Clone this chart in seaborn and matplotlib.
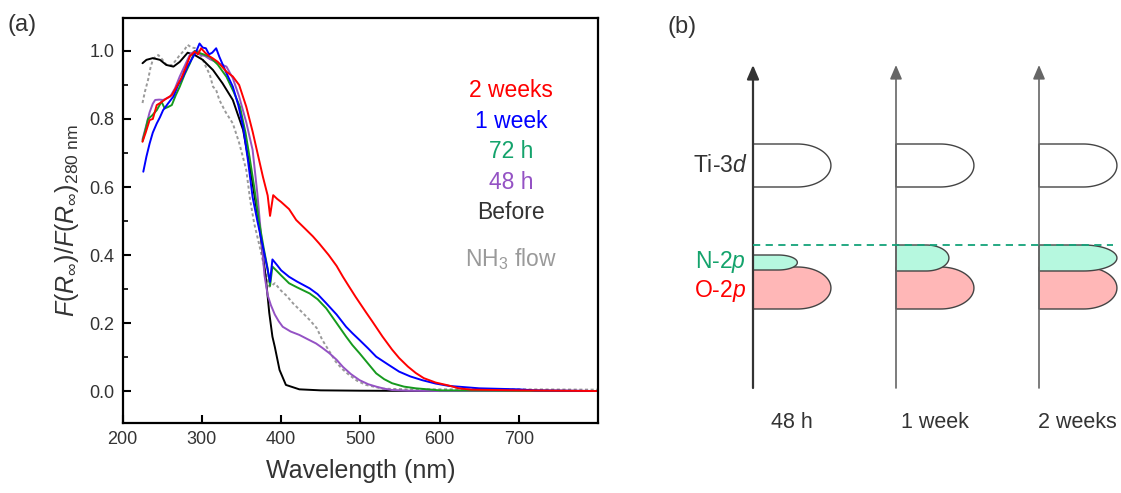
import numpy as np
import pandas as pd
import matplotlib
matplotlib.use("Agg")
import matplotlib.pyplot as plt
import seaborn as sns

# ---------------- data (panel a) ----------------
wl_before = [225, 230, 238, 247, 255, 264, 272, 282, 291, 301, 314, 326, 339, 352, 362, 368, 373, 377, 381, 385,
             389, 392, 398, 406, 423, 450, 500, 600, 700, 800]
val_before = [0.964, 0.974, 0.979, 0.974, 0.959, 0.954, 0.968, 0.995, 0.988, 0.974, 0.944, 0.905, 0.856, 0.768,
              0.64, 0.55, 0.474, 0.40, 0.326, 0.23, 0.16, 0.13, 0.062, 0.018, 0.005, 0.002, 0.001, 0.0, 0.0, 0.0]

wl_2w = [225, 229, 234, 238, 243, 248, 255, 262, 268, 274, 280, 285, 291, 295, 299, 304, 309, 314, 320, 325, 331,
         339, 347, 356, 364, 377, 383, 386, 390, 395, 400, 410, 419, 430, 440, 448, 460, 470, 478, 485, 494, 507,
         515, 528, 540, 549, 560, 570, 580, 595, 612, 624, 640, 700, 800]
val_2w = [0.733, 0.76, 0.797, 0.80, 0.841, 0.848, 0.86, 0.87, 0.895, 0.92, 0.954, 0.985, 0.998, 0.99, 1.008, 0.995,
          0.985, 0.978, 0.968, 0.955, 0.939, 0.925, 0.90, 0.836, 0.763, 0.63, 0.575, 0.515, 0.576, 0.565, 0.556,
          0.535, 0.503, 0.478, 0.455, 0.434, 0.40, 0.368, 0.336, 0.31, 0.277, 0.232, 0.205, 0.16, 0.122, 0.097,
          0.072, 0.053, 0.038, 0.025, 0.016, 0.008, 0.004, 0.002, 0.0]

wl_1w = [226, 230, 234, 238, 243, 247, 251, 257, 264, 270, 276, 282, 289, 293, 297, 301, 305, 309, 313, 318, 322,
         330, 339, 346, 352, 358, 364, 370, 377, 383, 386, 389, 395, 400, 410, 420, 436, 446, 457, 470, 482, 490,
         499, 510, 520, 535, 549, 563, 578, 595, 612, 650, 700, 720, 800]
val_1w = [0.645, 0.69, 0.728, 0.76, 0.787, 0.805, 0.826, 0.845, 0.866, 0.90, 0.924, 0.955, 0.983, 1.0, 1.022, 1.01,
          1.008, 0.99, 0.995, 1.008, 0.983, 0.94, 0.895, 0.84, 0.777, 0.68, 0.57, 0.50, 0.424, 0.356, 0.321, 0.387,
          0.37, 0.355, 0.336, 0.322, 0.302, 0.285, 0.258, 0.225, 0.189, 0.17, 0.15, 0.125, 0.101, 0.078, 0.057,
          0.043, 0.032, 0.022, 0.015, 0.008, 0.005, 0.002, 0.0]

wl_72h = [225, 229, 232, 237, 243, 249, 253, 257, 262, 267, 272, 278, 285, 291, 296, 302, 310, 320, 331, 340, 348,
          355, 360, 366, 372, 378, 383, 386, 389, 395, 400, 410, 420, 436, 446, 457, 470, 482, 490, 499, 510, 520,
          530, 540, 555, 570, 600, 800]
val_72h = [0.735, 0.77, 0.80, 0.81, 0.826, 0.851, 0.831, 0.835, 0.841, 0.87, 0.895, 0.93, 0.964, 1.0, 0.995, 0.99,
           0.983, 0.96, 0.924, 0.88, 0.836, 0.76, 0.69, 0.60, 0.50, 0.42, 0.36, 0.309, 0.366, 0.352, 0.34, 0.317,
           0.305, 0.287, 0.27, 0.243, 0.20, 0.16, 0.135, 0.111, 0.08, 0.052, 0.035, 0.023, 0.013, 0.008, 0.002, 0.0]

wl_48h = [225, 229, 234, 238, 241, 246, 251, 255, 260, 266, 272, 278, 285, 291, 297, 304, 310, 320, 331, 339, 347,
          356, 364, 370, 375, 379, 383, 387, 392, 397, 402, 412, 423, 433, 444, 452, 461, 470, 478, 488, 499, 510,
          520, 530, 540, 560, 600, 800]
val_48h = [0.74, 0.775, 0.82, 0.845, 0.856, 0.857, 0.856, 0.86, 0.866, 0.89, 0.925, 0.955, 0.99, 1.0, 0.99, 0.985,
           0.976, 0.965, 0.954, 0.92, 0.866, 0.79, 0.709, 0.58, 0.45, 0.34, 0.282, 0.253, 0.225, 0.205, 0.189, 0.175,
           0.165, 0.153, 0.14, 0.127, 0.111, 0.092, 0.071, 0.05, 0.032, 0.02, 0.013, 0.007, 0.003, 0.001, 0.0, 0.0]

wl_nh3 = [225, 228, 232, 235, 238, 242, 245, 250, 255, 262, 268, 272, 277, 282, 287, 293, 299, 305, 310, 314, 318,
          322, 330, 339, 347, 356, 361, 366, 373, 379, 385, 388, 392, 400, 407, 415, 425, 436, 445, 452, 460, 469,
          477, 486, 496, 507, 528, 560, 600, 700, 800]
val_nh3 = [0.847, 0.88, 0.915, 0.95, 0.974, 0.985, 0.988, 0.975, 0.96, 0.958, 0.975, 0.988, 1.0, 1.018, 1.01,
           1.008, 0.985, 0.954, 0.93, 0.895, 0.885, 0.856, 0.82, 0.787, 0.73, 0.65, 0.56, 0.493, 0.424, 0.36, 0.307,
           0.31, 0.317, 0.295, 0.28, 0.258, 0.235, 0.209, 0.185, 0.15, 0.12, 0.086, 0.065, 0.047, 0.03, 0.018,
           0.007, 0.005, 0.005, 0.005, 0.004]

series_names = ["2 weeks", "1 week", "72 h", "48 h", "Before", "NH$_3$ flow"]
line_colors = ["#ff0000", "#0000ff", "#169a1e", "#9452c4", "#000000", "#9a9a9a"]
label_colors = ["#ff0000", "#0000ff", "#14a36c", "#9452c4", "#333333", "#9a9a9a"]
label_y = [0.885, 0.794, 0.703, 0.612, 0.524, 0.388]
label_x = 690

# ---------------- data (panel b) ----------------
stages = ["48 h", "1 week", "2 weeks"]
ti3d_level = (306, 349)          # bottom, top (schematic energy units)
o2p_level = (184, 226)
n2p_bottom = [223, 222, 222]
n2p_top = [238, 248, 248]
n2p_width = [0.31, 0.37, 0.545]  # relative to stage spacing
band_width = 0.545
vbm_line = 248

# ---------------- style ----------------
sns.set_theme(style="ticks")
plt.rcParams["font.family"] = ["Liberation Sans", "DejaVu Sans"]
plt.rcParams["mathtext.fontset"] = "custom"
plt.rcParams["mathtext.rm"] = "Liberation Sans"
plt.rcParams["mathtext.it"] = "Liberation Sans:italic"
plt.rcParams["mathtext.bf"] = "Liberation Sans:bold"

fig = plt.figure(figsize=(11.21, 4.93), dpi=100)
ax = fig.add_axes([122.7 / 1121, 70 / 493, (598 - 122.7) / 1121, (423 - 18) / 493])

series_wl = [wl_2w, wl_1w, wl_72h, wl_48h, wl_before, wl_nh3]
series_val = [val_2w, val_1w, val_72h, val_48h, val_before, val_nh3]
draw_order = [5, 4, 3, 2, 1, 0]
for i in draw_order:
    df = pd.DataFrame({"wl": series_wl[i], "v": series_val[i]})
    ls = (0, (1.6, 1.3)) if i == 5 else "-"
    sns.lineplot(data=df, x="wl", y="v", ax=ax, color=line_colors[i], lw=1.4,
                 linestyle=ls, sort=False, estimator=None, legend=False)

for name, c, y in zip(series_names, label_colors, label_y):
    ax.text(label_x, y, name, color=c, fontsize=16.5, ha="center", va="center")

ax.set_xlim(200, 800)
ax.set_ylim(-0.094, 1.097)
ax.set_xticks([200, 300, 400, 500, 600, 700])
ax.set_yticks([0.0, 0.2, 0.4, 0.6, 0.8, 1.0])
ax.set_yticks(np.arange(0.1, 1.0, 0.2), minor=True)
ax.tick_params(axis="both", which="major", direction="in", length=6, width=1.5,
               labelsize=13, colors="#000000", labelcolor="#333333", pad=6)
ax.tick_params(axis="y", which="minor", direction="in", length=3.5, width=1.2, colors="#000000")
for s in ax.spines.values():
    s.set_visible(True)
    s.set_linewidth(1.6)
    s.set_color("#000000")
ax.set_xlabel("Wavelength (nm)", fontsize=18, color="#333333", labelpad=8)
ax.set_ylabel(r"$\mathit{F}(\mathit{R}_{\infty})/\mathit{F}(\mathit{R}_{\infty})_{\mathrm{280\ nm}}$",
              fontsize=18, color="#333333", labelpad=6)
fig.text(22 / 1121, 1 - 25 / 493, "(a)", fontsize=17, color="#333333", ha="center", va="center")
fig.text(682 / 1121, 1 - 27 / 493, "(b)", fontsize=17, color="#333333", ha="center", va="center")

# ---------------- panel b schematic ----------------
axb = fig.add_axes([660 / 1121, 0, 461 / 1121, 1])
axb.set_xlim((660 - 753) / 143, (1121 - 753) / 143)
axb.set_ylim(0, 493)
axb.axis("off")


def d_shape(x0, yb, yt, w, frac=0.43, n=60):
    rx = frac * w
    xc = x0 + w - rx
    yc = (yb + yt) / 2
    ry = (yt - yb) / 2
    t = np.linspace(-np.pi / 2, np.pi / 2, n)
    xs = np.concatenate([[x0, xc], xc + rx * np.cos(t), [xc, x0]])
    ys = np.concatenate([[yb, yb], yc + ry * np.sin(t), [yt, yt]])
    return xs, ys


edge = "#444444"
for k, st in enumerate(stages):
    x0 = float(k)
    # Ti-3d
    xs, ys = d_shape(x0, ti3d_level[0], ti3d_level[1], band_width)
    axb.fill(xs, ys, facecolor="white", edgecolor=edge, lw=1.0, zorder=2)
    # O-2p
    xs, ys = d_shape(x0, o2p_level[0], o2p_level[1], band_width)
    axb.fill(xs, ys, facecolor="#ffb7b7", edgecolor=edge, lw=1.0, zorder=2)
    # N-2p
    xs, ys = d_shape(x0, n2p_bottom[k], n2p_top[k], n2p_width[k])
    axb.fill(xs, ys, facecolor="#b6f8df", edgecolor=edge, lw=1.0, zorder=3)
    # energy axis arrow
    col = "#333333" if k == 0 else "#666666"
    axb.annotate("", xy=(x0, 428), xytext=(x0, 105),
                 arrowprops=dict(arrowstyle="-|>,head_length=0.7,head_width=0.3",
                                 color=col, lw=1.6 if k == 0 else 1.2, shrinkA=0, shrinkB=0),
                 zorder=4)
    axb.text(x0 + 0.27, 71, st, fontsize=15.5, color="#333333", ha="center", va="center")

axb.plot([0, 2.52], [vbm_line, vbm_line], color="#14a37a", lw=1.3, linestyle=(0, (4, 3)), zorder=5)

axb.text(-0.04, sum(ti3d_level) / 2, r"Ti-3$\mathit{d}$", fontsize=16.5, color="#333333",
         ha="right", va="center")
axb.text(-0.05, 231, r"N-2$\mathit{p}$", fontsize=16.5, color="#14a36c", ha="right", va="center")
axb.text(-0.05, 202, r"O-2$\mathit{p}$", fontsize=16.5, color="#ff0000", ha="right", va="center")

fig.savefig("out.png", dpi=100)
